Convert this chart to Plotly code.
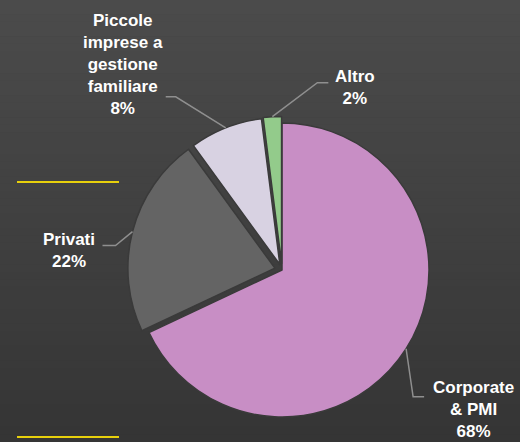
import numpy as np
import plotly.graph_objects as go

# dati
etichette = ["Corporate<br>& PMI", "Privati", "Piccole<br>imprese a<br>gestione<br>familiare", "Altro"]
valori = [68, 22, 8, 2]
colori = ["#C88EC5", "#646464", "#D8D2E2", "#93CB8B"]
stacchi = [0, 0.05, 0.04, 0.045]

W, H = 520, 442
cx, cy, R = 282, 270, 147   # centro e raggio della torta in pixel

# (gomito, fine linea, centro testo) come scostamenti in pixel dal bordo della fetta
guide = [((7, 48), (18, 48), (67, 61)),
         ((-17, 14), (-30, 14), (-63, 19)),
         ((-50, -31), (-60, -31), (-103, -63)),
         ((45, -34), (56, -34), (83, -29))]

def px(x):
    return x / W

def py(y):
    return 1 - y / H

lato = R * (1 + max(stacchi))
fig = go.Figure(go.Pie(
    labels=etichette, values=valori, sort=False,
    direction="clockwise", rotation=0,
    marker=dict(colors=colori, line=dict(color="#3a3a3a", width=1.5)),
    pull=stacchi, textinfo="none", showlegend=False,
    domain=dict(x=[px(cx - lato), px(cx + lato)], y=[py(cy + lato), py(cy - lato)]),
))

# sfondo sfumato
shapes = []
n = 60
for i in range(n):
    t = i / (n - 1)
    c = int(round(75 - 22 * t))
    shapes.append(dict(type="rect", xref="paper", yref="paper", x0=0, x1=1,
                       y0=1 - (i + 1) / n, y1=1 - i / n + 0.001,
                       fillcolor=f"rgb({c},{c},{c})", line_width=0, layer="below"))

# linee gialle decorative
for yy in [182, 437]:
    shapes.append(dict(type="line", xref="paper", yref="paper", x0=px(17), x1=px(119),
                       y0=py(yy), y1=py(yy), line=dict(color="#E8D00C", width=2)))

annotations = []
tot = sum(valori)
cum = 0
for lab, v, p, g in zip(etichette, valori, stacchi, guide):
    mid = np.radians((cum + v / 2) / tot * 360)
    cum += v
    r = R * (1 + p)
    tx = cx + r * np.sin(mid)
    ty = cy - r * np.cos(mid)
    (ex, ey), (fx, fy), (lx, ly) = g
    path = (f"M {px(tx)} {py(ty)} L {px(tx + ex)} {py(ty + ey)} "
            f"L {px(tx + fx)} {py(ty + fy)}")
    shapes.append(dict(type="path", xref="paper", yref="paper", path=path,
                       line=dict(color="#8f8f8f", width=1.5)))
    annotations.append(dict(text=f"{lab}<br>{v}%", x=px(tx + lx), y=py(ty + ly),
                            xref="paper", yref="paper", showarrow=False,
                            xanchor="center", yanchor="middle", align="center",
                            font=dict(family="Liberation Sans, Arial", size=17,
                                      color="white", weight="bold")))

fig.update_layout(width=W, height=H, margin=dict(l=0, r=0, t=0, b=0),
                  paper_bgcolor="#404040", plot_bgcolor="#404040",
                  shapes=shapes, annotations=annotations)

fig.write_html("out.html", config={"displayModeBar": False},
               post_script="document.body.style.margin='0';")
